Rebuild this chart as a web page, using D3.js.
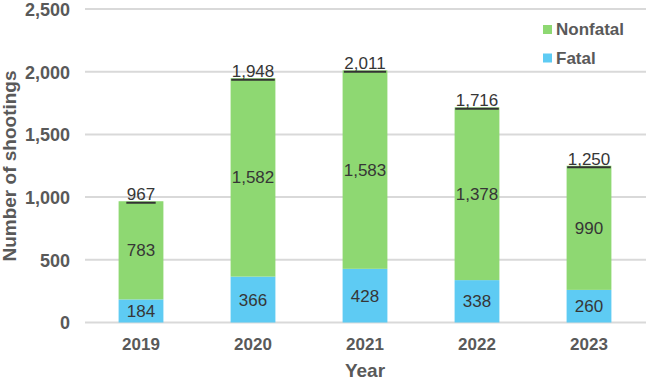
<!DOCTYPE html>
<html>
<head>
<meta charset="utf-8">
<script src="https://cdn.jsdelivr.net/npm/d3@7"></script>
<style>
  body { margin: 0; background: #fff; }
  svg { font-family: Arial, "Liberation Sans", sans-serif; }
  .tick text { fill: #595959; font-weight: bold; }
  .label { fill: #595959; font-size: 19px; font-weight: bold; }
  .val { fill: #363636; font-size: 17px; }
</style>
</head>
<body>
<div class="chart"></div>
<script>
const years = ["2019", "2020", "2021", "2022", "2023"];
const fatal = [184, 366, 428, 338, 260];
const nonfatal = [783, 1582, 1583, 1378, 990];
const totals = [967, 1948, 2011, 1716, 1250];
const yTicks = [0, 500, 1000, 1500, 2000, 2500];

const width = 646, height = 385;
const margin = { top: 9, right: 1, bottom: 62, left: 85 };

const svg = d3.select(".chart")
  .append("svg")
  .attr("width", width)
  .attr("height", height);

const xScale = d3.scaleBand()
  .domain(years)
  .range([margin.left, width - margin.right])
  .paddingInner(0.6)
  .paddingOuter(0.3);

const yScale = d3.scaleLinear()
  .domain([0, 2500])
  .range([height - margin.bottom - 0.5, margin.top]);

//Gridlines
svg.append("g")
  .selectAll("line")
  .data(yTicks)
  .join("line")
  .attr("x1", margin.left)
  .attr("x2", width)
  .attr("y1", d => yScale(d))
  .attr("y2", d => yScale(d))
  .attr("stroke", "#d9d9d9")
  .attr("stroke-width", 2);

//Y axis
const yAxisGroup = svg.append("g")
  .attr("transform", `translate(${margin.left}, 0)`)
  .call(d3.axisLeft(yScale).tickValues(yTicks).tickFormat(d3.format(",")).tickSize(0).tickPadding(15));
yAxisGroup.select(".domain").remove();
yAxisGroup.selectAll(".tick text").attr("dy", "0.35em").style("font-size", "18px");

//X axis
const xAxisGroup = svg.append("g")
  .attr("transform", `translate(0, ${yScale(0)})`)
  .call(d3.axisBottom(xScale).tickSize(0));
xAxisGroup.select(".domain").remove();
xAxisGroup.selectAll(".tick text").attr("y", 27).attr("dy", null).style("font-size", "17px");

//Axis titles
svg.append("text")
  .attr("class", "label")
  .attr("x", xScale("2021") + xScale.bandwidth() / 2)
  .attr("y", 377)
  .attr("text-anchor", "middle")
  .text("Year");

svg.append("text")
  .attr("class", "label")
  .attr("text-anchor", "middle")
  .attr("transform", `translate(16, 166) rotate(-90)`)
  .text("Number of shootings");

const rows = years.map((y, i) => ({ year: y, fatal: fatal[i], nonfatal: nonfatal[i], total: totals[i] }));
const fmt = d3.format(",");

//Bars
svg.selectAll(".fatal")
  .data(rows)
  .join("rect")
  .attr("class", "fatal")
  .attr("x", d => xScale(d.year))
  .attr("width", xScale.bandwidth())
  .attr("y", d => yScale(d.fatal))
  .attr("height", d => yScale(0) - yScale(d.fatal))
  .attr("fill", "#5ecbf3");

svg.selectAll(".nonfatal")
  .data(rows)
  .join("rect")
  .attr("class", "nonfatal")
  .attr("x", d => xScale(d.year))
  .attr("width", xScale.bandwidth())
  .attr("y", d => yScale(d.fatal + d.nonfatal))
  .attr("height", d => yScale(d.fatal) - yScale(d.fatal + d.nonfatal))
  .attr("fill", "#8ed872");

const cx = d => xScale(d.year) + xScale.bandwidth() / 2;

//Value labels
svg.selectAll(".fatalLabel")
  .data(rows)
  .join("text")
  .attr("class", "val")
  .attr("x", cx)
  .attr("y", d => (yScale(0) + yScale(d.fatal)) / 2)
  .attr("dy", "0.35em")
  .attr("text-anchor", "middle")
  .text(d => fmt(d.fatal));

svg.selectAll(".nonfatalLabel")
  .data(rows)
  .join("text")
  .attr("class", "val")
  .attr("x", cx)
  .attr("y", d => (yScale(d.fatal) + yScale(d.fatal + d.nonfatal)) / 2)
  .attr("dy", "0.35em")
  .attr("text-anchor", "middle")
  .text(d => fmt(d.nonfatal));

const totalLabels = svg.selectAll(".totalLabel")
  .data(rows)
  .join("text")
  .attr("class", "val")
  .attr("x", cx)
  .attr("y", d => yScale(d.total) - 1)
  .attr("text-anchor", "middle")
  .text(d => fmt(d.total));

//Underline of totals
totalLabels.each(function (d) {
  const w = this.getComputedTextLength() + 1;
  svg.append("line")
    .attr("x1", cx(d) - w / 2)
    .attr("x2", cx(d) + w / 2)
    .attr("y1", yScale(d.total) + 1.5)
    .attr("y2", yScale(d.total) + 1.5)
    .attr("stroke", "#333")
    .attr("stroke-width", 2);
});

//Legend
const legend = svg.append("g").attr("transform", "translate(543, 0)");
const legendItems = [["Nonfatal", "#8ed872"], ["Fatal", "#5ecbf3"]];
legendItems.forEach((item, i) => {
  legend.append("rect")
    .attr("x", 0)
    .attr("y", 25 + i * 28.5)
    .attr("width", 9)
    .attr("height", 9)
    .attr("fill", item[1]);
  legend.append("text")
    .attr("class", "label")
    .attr("x", 13)
    .attr("y", 35 + i * 28.5)
    .style("font-size", "17px")
    .text(item[0]);
});
</script>
</body>
</html>
